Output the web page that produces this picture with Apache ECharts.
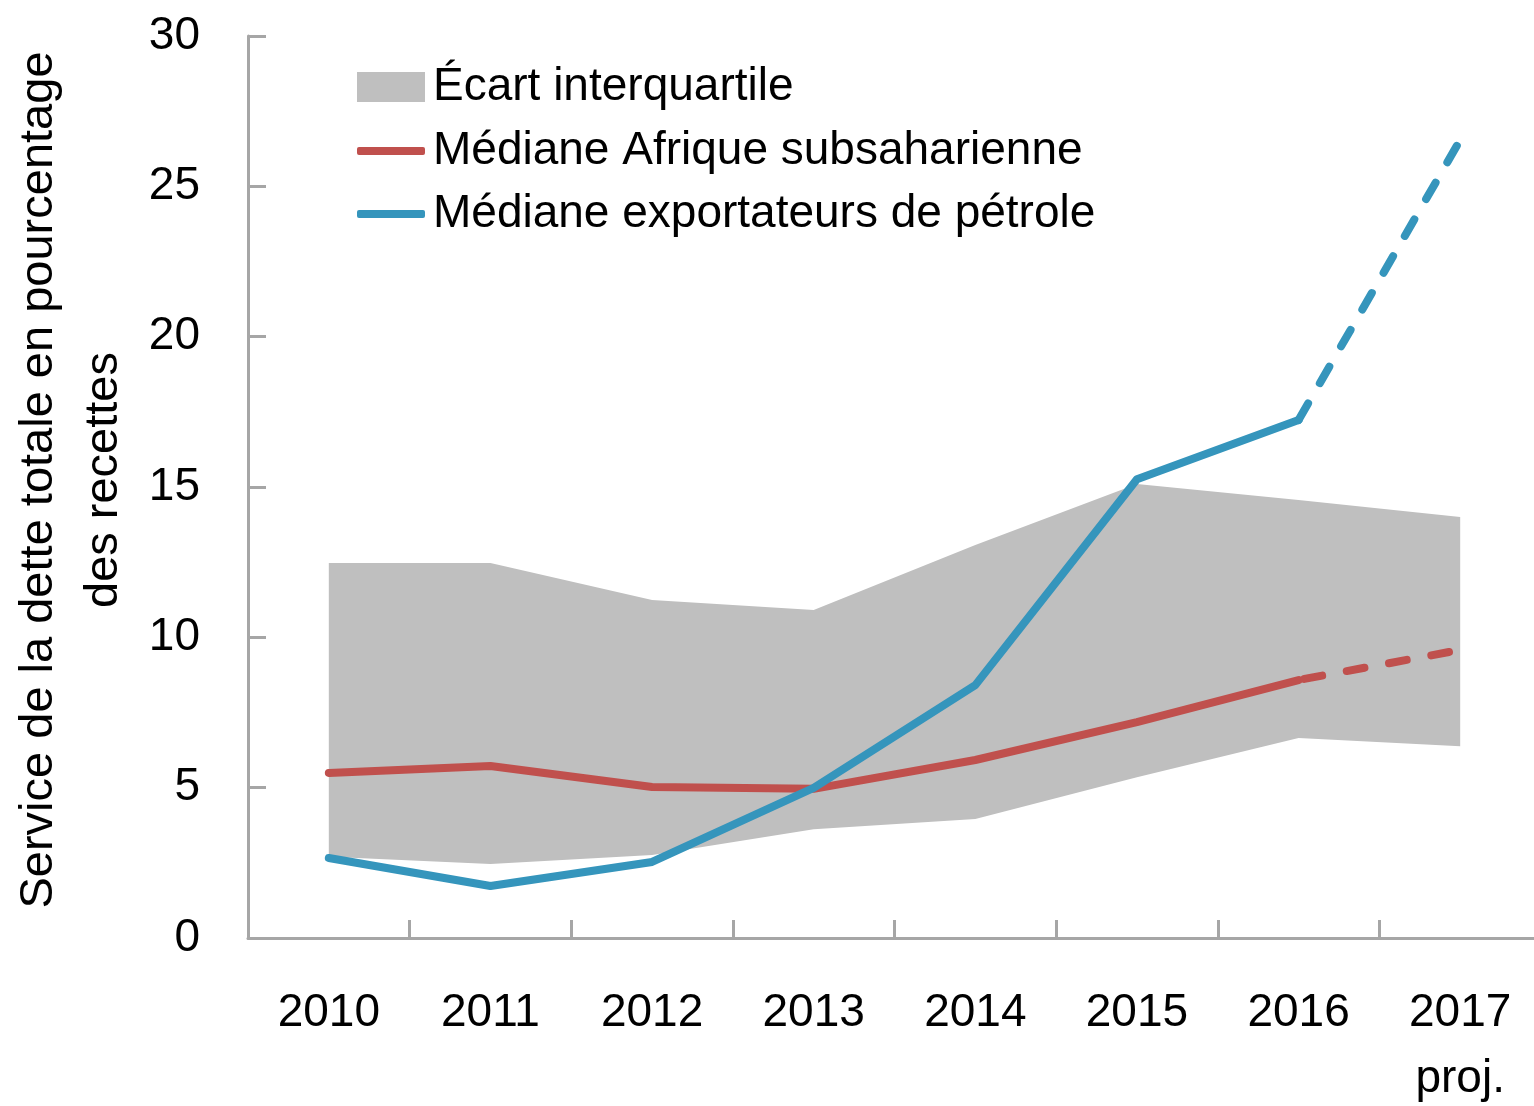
<!DOCTYPE html>
<html>
<head>
<meta charset="utf-8">
<script src="https://cdn.jsdelivr.net/npm/echarts@6/dist/echarts.min.js"></script>
<style>
html,body{margin:0;padding:0;background:#fff;}
#chart{width:1534px;height:1106px;}
</style>
</head>
<body>
<div id="chart"></div>
<script>
const categories = ['2010','2011','2012','2013','2014','2015','2016','2017\nproj.'];
const bandLower = [2.7, 2.46, 2.76, 3.62, 3.96, 5.35, 6.65, 6.38];
const bandUpper = [12.47, 12.47, 11.24, 10.91, 13.07, 15.1, 14.57, 14.0];
const ssaMedian = [5.49, 5.72, 5.02, 4.96, 5.92, 7.18, 8.58, 9.58];
const oilMedian = [2.66, 1.73, 2.53, 4.99, 8.41, 15.26, 17.23, 26.54];
const yTicks = {min: 0, max: 30, interval: 5};

const projStart = 6; // index of last actual value
const solid = arr => arr.map((v, i) => i <= projStart ? v : null);
const dashed = arr => arr.map((v, i) => i >= projStart ? v : null);
const bandDiff = bandUpper.map((v, i) => +(v - bandLower[i]).toFixed(2));

const FONT = '"Liberation Sans Narrow", "Liberation Sans", Arial, sans-serif';
const RED = '#c0504d';
const BLUE = '#3595bc';
const GRAY = '#bfbfbf';
const AXIS = '#a6a6a6';

const chart = echarts.init(document.getElementById('chart'), null, {renderer: 'canvas'});
const legendText = {fontSize: 46, fontFamily: FONT, color: '#000', lineHeight: 50, padding: [0, 0, 0, 3]};
chart.setOption({
  animation: false,
  textStyle: {fontFamily: FONT},
  grid: {left: 248, top: 36, bottom: 168, right: -7, containLabel: false, outerBoundsMode: 'none'},
  legend: [
    {data: [{name: 'Écart interquartile', icon: 'rect'}], left: 357, top: 62, padding: 0, itemWidth: 68, itemHeight: 30, textStyle: legendText, selectedMode: false},
    {data: [{name: 'Médiane Afrique subsaharienne', icon: 'roundRect'}], left: 357, top: 126, padding: 0, itemWidth: 68, itemHeight: 8, textStyle: legendText, selectedMode: false},
    {data: [{name: 'Médiane exportateurs de pétrole', icon: 'roundRect'}], left: 357, top: 189, padding: 0, itemWidth: 68, itemHeight: 8, textStyle: legendText, selectedMode: false}
  ],
  xAxis: {
    type: 'category',
    data: categories,
    boundaryGap: true,
    axisLine: {show: true, lineStyle: {color: AXIS, width: 3}},
    axisTick: {show: true, inside: true, length: 18, interval: 0, lineStyle: {color: AXIS, width: 3}},
    axisLabel: {fontSize: 46, fontFamily: FONT, color: '#000', margin: 42, lineHeight: 66, interval: 0},
    splitLine: {show: false}
  },
  yAxis: {
    type: 'value',
    min: yTicks.min, max: yTicks.max, interval: yTicks.interval,
    axisLine: {show: true, lineStyle: {color: AXIS, width: 3}},
    axisTick: {show: true, inside: true, length: 18, lineStyle: {color: AXIS, width: 3}},
    axisLabel: {fontSize: 46, fontFamily: FONT, color: '#000', margin: 48},
    splitLine: {show: false},
    name: 'Service de la dette totale en pourcentage\ndes recettes',
    nameLocation: 'middle',
    nameRotate: 90,
    nameGap: 111,
    nameTextStyle: {fontSize: 47, fontFamily: FONT, color: '#000', lineHeight: 65, padding: [0, 0, 0, 14]}
  },
  series: [
    {name: 'bandLower', type: 'line', stack: 'band', data: bandLower, symbol: 'none', lineStyle: {opacity: 0}, silent: true, z: 1},
    {name: 'Écart interquartile', type: 'line', stack: 'band', data: bandDiff, symbol: 'none', lineStyle: {opacity: 0}, areaStyle: {color: GRAY, opacity: 1}, itemStyle: {color: GRAY}, silent: true, z: 1},
    {name: 'Médiane Afrique subsaharienne', type: 'line', data: solid(ssaMedian), symbol: 'none', itemStyle: {color: RED}, lineStyle: {color: RED, width: 8, cap: 'round', join: 'round'}, z: 3},
    {name: 'ssaProj', type: 'line', data: dashed(ssaMedian), symbol: 'none', itemStyle: {color: RED}, lineStyle: {color: RED, width: 8, type: [18, 25], dashOffset: -6, cap: 'round'}, z: 3},
    {name: 'Médiane exportateurs de pétrole', type: 'line', data: solid(oilMedian), symbol: 'none', itemStyle: {color: BLUE}, lineStyle: {color: BLUE, width: 8, cap: 'round', join: 'round'}, z: 4},
    {name: 'oilProj', type: 'line', data: dashed(oilMedian), symbol: 'none', itemStyle: {color: BLUE}, lineStyle: {color: BLUE, width: 8, type: [19, 23.5], cap: 'round'}, z: 4}
  ]
});
</script>
</body>
</html>
